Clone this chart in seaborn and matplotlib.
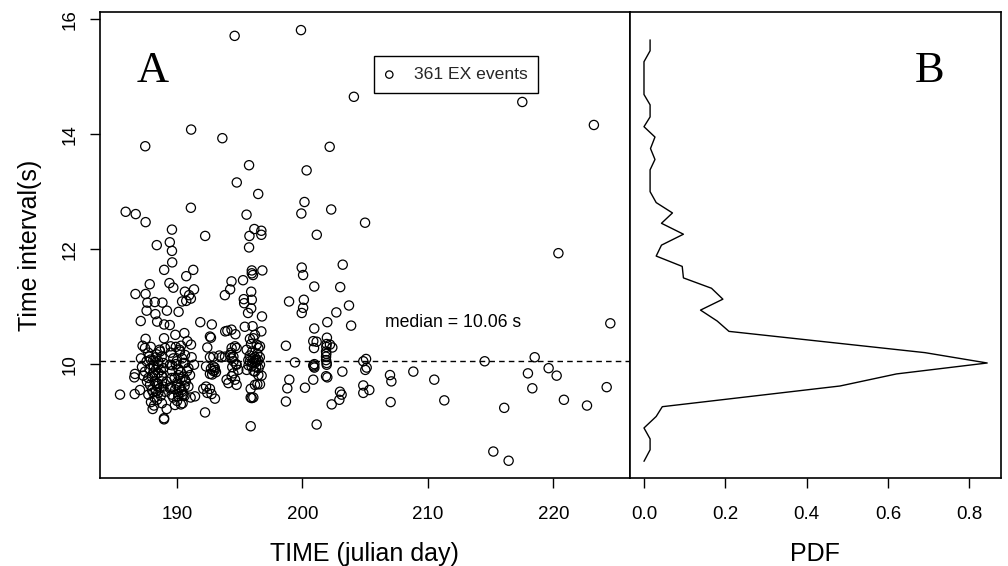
import numpy as np
import pandas as pd
import matplotlib
matplotlib.use('Agg')
import matplotlib.pyplot as plt
import seaborn as sns

sns.set_theme(style='ticks')
plt.rcParams['font.family'] = ['Liberation Sans', 'DejaVu Sans']

# EX events: julian day and time interval (s)
day_upper = [
    194.59, 199.88, 204.10, 217.53, 223.24, 191.12, 193.61, 187.46, 202.17, 195.74,
    200.33, 194.76, 196.47, 200.16, 185.90, 186.70, 187.49, 191.10, 195.54, 199.91,
    202.29, 204.99, 189.59, 192.24, 195.77, 196.16, 196.72, 196.72, 201.14, 189.42,
    188.38, 189.59, 195.74, 220.41, 189.61, 203.21, 188.97, 191.29, 190.73, 189.39,
    187.82, 189.70, 191.35, 186.68, 187.49, 190.62, 190.96, 190.73, 190.40, 191.10,
    187.63, 188.22, 188.83, 194.34, 195.26, 194.23, 193.81, 195.96, 195.96, 196.80,
    196.05, 195.91, 195.32, 195.96, 195.35, 195.91, 195.66, 196.77, 199.94, 200.05,
    200.94, 203.01, 198.93, 200.11, 200.05, 199.94, 203.71, 202.70, 201.98, 203.88,
    224.55, 187.57, 189.19, 190.12, 188.27, 187.10, 188.41, 188.97, 189.42, 191.85,
    192.77, 194.01, 194.34, 194.65, 193.84, 195.40, 196.02, 196.72, 200.94, 201.95]
int_upper = [
    15.71, 15.81, 14.65, 14.56, 14.16, 14.08, 13.93, 13.79, 13.78, 13.46,
    13.37, 13.16, 12.96, 12.82, 12.65, 12.61, 12.47, 12.72, 12.60, 12.62,
    12.69, 12.46, 12.34, 12.23, 12.23, 12.35, 12.32, 12.25, 12.25, 12.12,
    12.07, 11.97, 12.03, 11.93, 11.77, 11.73, 11.64, 11.64, 11.53, 11.41,
    11.39, 11.33, 11.30, 11.22, 11.22, 11.26, 11.20, 11.10, 11.09, 11.14,
    11.07, 11.08, 11.07, 11.44, 11.46, 11.30, 11.20, 11.63, 11.58, 11.63,
    11.55, 11.26, 11.13, 11.12, 11.06, 10.97, 10.89, 10.83, 11.68, 11.55,
    11.35, 11.34, 11.09, 11.12, 10.98, 10.89, 11.02, 10.90, 10.73, 10.67,
    10.71, 10.93, 10.93, 10.91, 10.87, 10.75, 10.74, 10.69, 10.68, 10.73,
    10.69, 10.58, 10.60, 10.52, 10.57, 10.65, 10.66, 10.57, 10.62, 10.46]

# day 185-192 cluster
day_c1 = [
    187.49, 188.96, 189.86, 190.58, 190.82, 191.11, 187.25, 187.44, 189.49, 190.31, 189.03, 188.64,
    187.76, 188.37, 188.77, 190.23, 190.63, 191.16, 191.35,
    187.12, 187.57, 188.10, 188.50, 188.90, 189.43, 189.97, 190.50, 190.90,
    186.64, 186.59, 187.44, 187.71, 188.24, 188.77, 189.17, 189.57, 190.10, 190.63, 191.03,
    187.84, 188.37, 188.90, 189.43, 189.97, 190.36, 190.90,
    185.45, 186.62, 187.04, 187.71, 188.10, 188.50, 189.03, 189.57, 190.10, 190.50, 191.08, 191.43,
    187.92, 188.16, 188.79, 189.17, 189.83, 190.44, 188.96, 188.96, 188.05]
int_c1 = [
    10.44, 10.45, 10.51, 10.54, 10.40, 10.34, 10.32, 10.28, 10.31, 10.32, 10.28, 10.22,
    10.13, 10.17, 10.13, 10.22, 10.16, 10.12, 9.99,
    10.10, 10.05, 10.07, 9.99, 9.93, 9.99, 10.05, 10.02, 9.93,
    9.83, 9.77, 9.87, 9.76, 9.81, 9.79, 9.70, 9.76, 9.81, 9.73, 9.81,
    9.64, 9.67, 9.61, 9.58, 9.64, 9.55, 9.61,
    9.47, 9.48, 9.55, 9.47, 9.51, 9.50, 9.52, 9.47, 9.44, 9.47, 9.42, 9.44,
    9.34, 9.28, 9.32, 9.22, 9.29, 9.32, 9.06, 9.04, 9.22]

# day 192-200 cluster
day_c2 = [
    192.62, 192.70, 195.81, 196.08, 196.21, 196.35, 196.48, 196.61, 195.55, 192.41, 198.68, 194.62, 194.35, 194.75,
    192.62, 192.89, 193.37, 193.55, 193.82, 194.22, 194.35, 194.49, 195.68, 195.81, 196.08, 196.21, 196.35, 196.48,
    196.61, 195.95, 199.40,
    192.31, 192.89, 193.02, 193.10, 192.62, 194.75, 194.88, 194.49, 194.35, 194.62, 193.95, 194.09, 194.75, 195.55,
    196.21, 196.48, 196.74, 198.95, 198.79, 196.21, 196.40, 196.61, 195.87, 192.31, 192.09, 192.62, 192.41, 192.75,
    193.02, 195.87, 195.95, 196.08, 198.68, 192.23, 195.87]
int_c2 = [
    10.48, 10.46, 10.44, 10.45, 10.51, 10.34, 10.28, 10.31, 10.25, 10.29, 10.32, 10.31, 10.28, 10.28,
    10.12, 10.13, 10.15, 10.12, 10.13, 10.16, 10.10, 10.13, 10.07, 10.05, 10.10, 10.02, 10.05, 10.07,
    9.99, 9.96, 10.03,
    9.96, 9.96, 9.90, 9.86, 9.83, 9.99, 9.90, 9.84, 9.79, 9.73, 9.73, 9.67, 9.64, 9.90,
    9.87, 9.81, 9.80, 9.73, 9.58, 9.64, 9.65, 9.65, 9.57, 9.61, 9.57, 9.57, 9.50, 9.48,
    9.40, 9.42, 9.41, 9.42, 9.35, 9.16, 8.92]

# day 200-208
day_c3 = [
    200.86, 201.13, 200.92, 201.93, 202.19, 202.38, 201.88, 201.88, 201.88, 201.93, 201.93,
    200.86, 200.95, 200.86, 200.20, 201.88, 201.98, 203.18, 204.85, 205.07, 205.12, 205.01,
    206.98, 207.09, 204.85, 205.33, 204.85, 202.99, 203.12, 202.94, 202.33, 207.03, 201.13]
int_c3 = [
    10.40, 10.39, 10.28, 10.35, 10.34, 10.29, 10.22, 10.13, 10.07, 10.02, 9.99,
    9.98, 9.94, 9.73, 9.59, 9.79, 9.77, 9.87, 10.05, 10.09, 9.94, 9.90,
    9.81, 9.70, 9.63, 9.55, 9.50, 9.52, 9.47, 9.38, 9.30, 9.34, 8.95]

# day > 208
day_c4 = [208.84, 210.51, 211.31, 214.53, 216.09, 215.22, 216.44, 218.52,
          217.98, 218.33, 219.63, 220.27, 220.85, 222.69, 224.26]
int_c4 = [9.87, 9.73, 9.37, 10.05, 9.24, 8.48, 8.32, 10.12,
          9.84, 9.58, 9.93, 9.80, 9.38, 9.28, 9.60]

# overlapping circles inside the dark blobs (estimated)
day_dense = [
    187.7, 187.9, 188.1, 188.3, 188.5, 187.8, 188.0, 188.2, 188.4, 188.6, 188.8, 188.7, 188.9,
    188.3, 188.6, 188.0, 188.2, 188.4, 188.7, 187.9, 188.5, 188.1, 188.8, 187.6, 188.3,
    189.5, 189.7, 189.9, 190.1, 190.3, 190.5, 190.7, 189.6, 189.8, 190.0, 190.2, 190.4, 190.6,
    189.5, 189.7, 190.0, 190.3, 190.6, 190.8, 190.4, 190.2, 189.9, 190.6, 189.6, 190.1,
    195.8, 196.0, 196.2, 196.3, 196.1, 196.4, 195.9, 196.5, 196.0, 196.3, 196.6, 195.7,
    201.9, 201.9, 200.9, 200.95, 188.45, 188.15, 190.25, 189.85,
    192.7, 192.9, 193.0, 192.8,
    194.5, 194.3, 194.7, 194.4,
    187.2, 187.3]
int_dense = [
    10.20, 10.08, 9.98, 9.90, 9.85, 9.92, 9.78, 9.70, 9.62, 9.58, 9.70, 9.90, 10.02,
    10.12, 10.25, 9.55, 9.42, 9.38, 9.45, 10.30, 10.05, 9.85, 9.80, 9.70, 9.52,
    10.20, 10.10, 10.00, 9.92, 9.86, 9.78, 9.70, 9.88, 9.76, 9.68, 9.60, 9.52, 9.45,
    9.60, 9.42, 9.36, 9.30, 9.62, 9.88, 10.10, 10.25, 10.30, 10.02, 9.98, 9.48,
    10.15, 10.02, 10.12, 9.95, 9.88, 10.18, 10.35, 9.93, 10.22, 10.08, 10.12, 9.98,
    10.18, 10.30, 9.96, 10.00, 9.66, 9.95, 9.74, 9.56,
    9.92, 9.88, 9.94, 9.82,
    10.05, 10.20, 10.00, 9.95,
    9.95, 9.80]

median_interval = 10.06

# panel B: PDF of the intervals
pdf_interval = [15.64, 15.45, 15.26, 14.69, 14.51, 14.30, 14.13, 13.95, 13.75, 13.56,
                13.38, 13.00, 12.81, 12.63, 12.45, 12.26, 12.07, 11.88, 11.70, 11.50,
                11.32, 11.13, 10.94, 10.75, 10.57, 10.20, 10.02, 9.83, 9.62, 9.26,
                9.09, 8.89, 8.70, 8.51, 8.31]
pdf_value = [0.015, 0.015, 0.0, 0.0, 0.015, 0.015, 0.0, 0.027, 0.016, 0.027,
             0.015, 0.015, 0.030, 0.070, 0.043, 0.097, 0.043, 0.030, 0.094, 0.097,
             0.166, 0.194, 0.139, 0.180, 0.209, 0.691, 0.844, 0.621, 0.482, 0.045,
             0.030, 0.0, 0.015, 0.015, 0.0]

ev = pd.DataFrame({
    'day': day_upper + day_c1 + day_c2 + day_c3 + day_c4 + day_dense,
    'interval': int_upper + int_c1 + int_c2 + int_c3 + int_c4 + int_dense,
})
pdf = pd.DataFrame({'interval': pdf_interval, 'pdf': pdf_value})

fig = plt.figure(figsize=(10.08, 5.66), dpi=100)
axA = fig.add_axes([0.0988, 0.1555, 0.5262, 0.8228])
axB = fig.add_axes([0.625, 0.1555, 0.3678, 0.8228], sharey=axA)

sns.scatterplot(data=ev, x='day', y='interval', ax=axA, marker='o', s=44,
                facecolors='none', edgecolors='black', linewidth=0.9,
                label='%d EX events' % len(ev))
axA.axhline(median_interval, color='black', lw=1, ls=(0, (4, 3)))
axA.text(206.58, 10.65, 'median = %.2f s' % median_interval, fontsize=12.7,
         ha='left', va='baseline', color='black')
axA.text(0.0705, 0.850, 'A', transform=axA.transAxes, fontsize=32,
         family='Liberation Serif', ha='left', va='baseline', color='black')

leg = axA.legend(loc='upper left', bbox_to_anchor=(0.5, 0.924), fontsize=12.6,
                 frameon=True, fancybox=False, edgecolor='black', framealpha=1,
                 borderpad=0.6, handlelength=0.6, handletextpad=1.1, markerscale=0.8)
leg.get_frame().set_linewidth(1.0)

axA.set_xlim(183.82, 226.12)
axA.set_ylim(8.02, 16.12)
axA.set_xticks([190, 200, 210, 220])
axA.set_yticks([10, 12, 14, 16])
axA.set_yticklabels(['10', '12', '14', '16'], rotation=90, va='center')
axA.set_xlabel('TIME (julian day)', fontsize=18, labelpad=14, color='black')
axA.set_ylabel('Time interval(s)', fontsize=18, labelpad=14, color='black')

sns.lineplot(data=pdf, x='pdf', y='interval', ax=axB, sort=False, estimator=None,
             color='black', linewidth=1)
axB.text(0.769, 0.850, 'B', transform=axB.transAxes, fontsize=32,
         family='Liberation Serif', ha='left', va='baseline', color='black')
axB.set_xlim(-0.0344, 0.8773)
axB.set_xticks([0.0, 0.2, 0.4, 0.6, 0.8])
axB.set_xticklabels(['0.0', '0.2', '0.4', '0.6', '0.8'])
axB.set_xlabel('PDF', fontsize=18, labelpad=14, color='black')
axB.set_ylabel('')

for ax in (axA, axB):
    for sp in ax.spines.values():
        sp.set_visible(True)
        sp.set_color('black')
        sp.set_linewidth(1.2)
    ax.tick_params(axis='both', colors='black', labelsize=13.5, length=7, width=1)
    ax.tick_params(axis='x', pad=13)
    ax.tick_params(axis='y', pad=8)
axB.tick_params(axis='y', left=False, labelleft=False)

fig.savefig('out.png', dpi=100)
